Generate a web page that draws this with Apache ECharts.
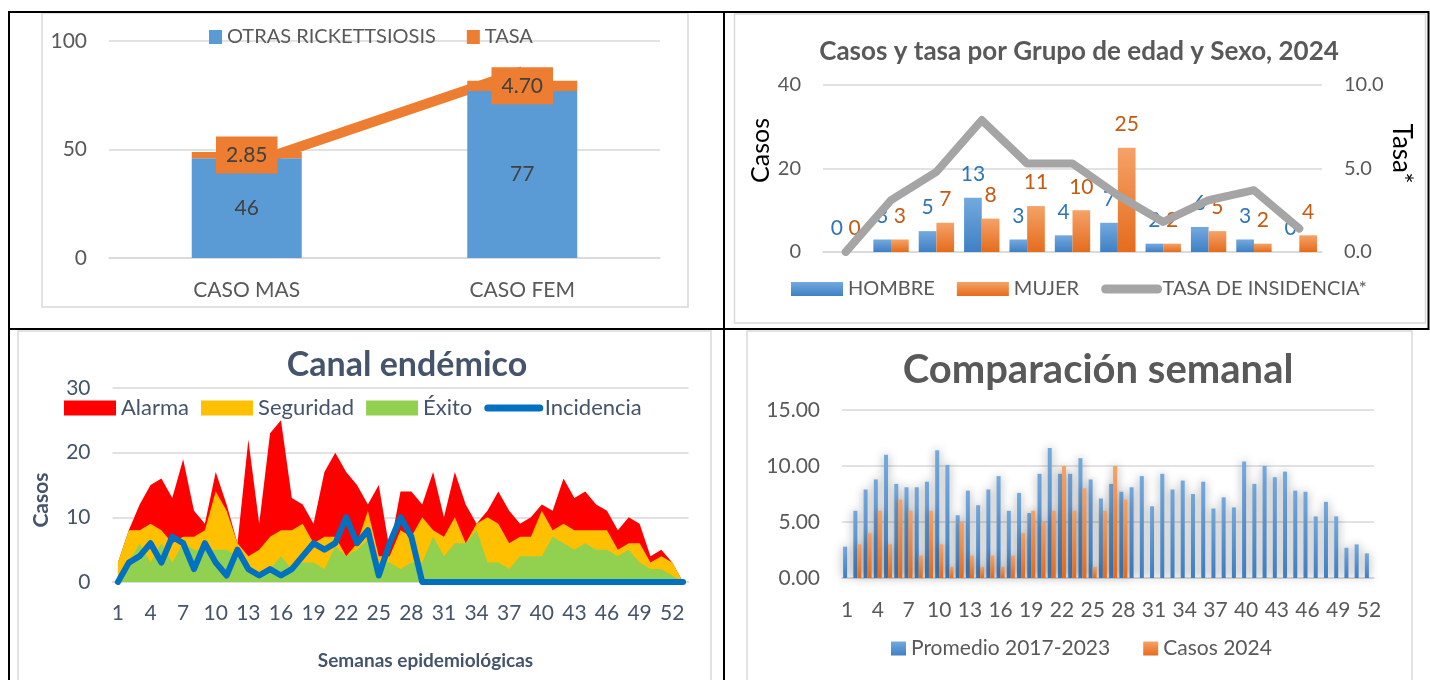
<!DOCTYPE html>
<html>
<head>
<meta charset="utf-8">
<title>Otras rickettsiosis</title>
<script src="https://cdn.jsdelivr.net/npm/echarts@6/dist/echarts.min.js"></script>
<style>
  html, body { margin: 0; padding: 0; background: #fff; }
  #main { width: 1430px; height: 680px; }
</style>
</head>
<body>
<div id="main"></div>
<script>
// --- casos por sexo ---
var sexCategories = ['CASO MAS', 'CASO FEM'];
var sexCases = [46, 77];
var sexRate = [2.85, 4.70];

// --- grupo de edad y sexo (etiquetas de grupo no visibles) ---
var ageGroups = ['1', '2', '3', '4', '5', '6', '7', '8', '9', '10', '11'];
var maleCases = [0, 3, 5, 13, 3, 4, 7, 2, 6, 3, 0];
var femaleCases = [0, 3, 7, 8, 11, 10, 25, 2, 5, 2, 4];
var incidenceRate = [0, 3.1, 4.8, 7.9, 5.3, 5.3, 3.4, 1.8, 3.1, 3.7, 1.4];

// --- canal endemico ---
var weeks53 = ['1','2','3','4','5','6','7','8','9','10','11','12','13','14','15','16','17','18','19','20',
  '21','22','23','24','25','26','27','28','29','30','31','32','33','34','35','36','37','38','39','40',
  '41','42','43','44','45','46','47','48','49','50','51','52','53'];
var alarma = [3, 8, 12, 15, 16, 13, 19, 11, 9, 17, 12, 6, 22, 9, 23, 25, 13, 12, 9, 17,
  20, 17, 15, 12, 15, 5, 14, 14, 12, 17, 10, 17, 12, 9, 11, 14, 11, 9, 10, 12,
  11, 16, 13, 14, 12, 11, 8, 10, 9, 4, 5, 3, 0];
var seguridad = [3, 8, 8, 9, 8, 6, 7, 7, 8, 14, 11, 6, 4, 5, 7, 8, 8, 9, 6, 7,
  7, 4, 6, 11, 4, 4, 8, 7, 10, 8, 7, 10, 6, 9, 10, 9, 6, 7, 7, 11,
  8, 9, 8, 8, 8, 8, 5, 6, 6, 3, 4, 3, 0];
var exito = [0, 3, 6, 3, 6, 3, 6, 5, 5, 5, 5, 4, 2, 1.5, 2, 4, 2, 3, 3, 2,
  5.5, 4, 5, 6.5, 3, 3, 2, 3, 3, 7, 4, 6, 6, 8, 3, 3, 2, 4, 4, 4,
  7, 6, 5, 6, 5, 5, 4, 5, 3, 2, 2, 1, 0];
var incidencia = [0, 3, 4, 6, 3, 7, 6, 2, 6, 3, 1, 5, 2, 1, 2, 1, 2, 4, 6, 5,
  6, 10, 6, 8, 1, 6, 10, 7, 0, 0, 0, 0, 0, 0, 0, 0, 0, 0, 0, 0,
  0, 0, 0, 0, 0, 0, 0, 0, 0, 0, 0, 0, 0];

// --- comparacion semanal ---
var weeks52 = weeks53.slice(0, 52);
var promedio = [2.8, 6.0, 7.9, 8.8, 11.0, 8.4, 8.1, 8.1, 8.6, 11.4,
  10.1, 5.6, 7.8, 6.5, 7.9, 9.1, 6.0, 7.6, 5.8, 9.3,
  11.6, 9.3, 9.3, 10.7, 8.8, 7.1, 8.4, 7.7, 8.1, 9.1,
  6.4, 9.3, 7.9, 8.7, 7.5, 8.6, 6.2, 7.2, 6.3, 10.4,
  8.4, 10.0, 9.0, 9.5, 7.8, 7.7, 5.5, 6.8, 5.5, 2.7, 3.0, 2.2];
var casos2024 = [0, 3, 4, 6, 3, 7, 6, 2, 6, 3, 1, 5, 2, 1, 2, 1, 2, 4, 6, 5,
  6, 10, 6, 8, 1, 6, 10, 7];

var FONT = 'Lato';
var GRAY = '#595959';
var SLATE = '#44546A';
var GRID_LINE = '#D9D9D9';

function blueGrad() {
    return new echarts.graphic.LinearGradient(0, 0, 0, 1, [
        { offset: 0, color: '#74A9DE' }, { offset: 1, color: '#3F80C4' }
    ]);
}
function orangeGrad() {
    return new echarts.graphic.LinearGradient(0, 0, 0, 1, [
        { offset: 0, color: '#F5A268' }, { offset: 1, color: '#E56C1C' }
    ]);
}

function valueAxis(gridIndex, min, max, interval, color, size, fmt) {
    return {
        type: 'value', gridIndex: gridIndex, min: min, max: max, interval: interval,
        axisLine: { show: false }, axisTick: { show: false },
        splitLine: { lineStyle: { color: GRID_LINE, width: 1.5 } },
        axisLabel: { color: color, fontSize: size, fontFamily: FONT, margin: 22, formatter: fmt }
    };
}

// solo la linea en la leyenda, sin simbolo
var noSymbol = { opacity: 0 };

var myChart = echarts.init(document.getElementById('main'));
var option = {
    animation: false,
    textStyle: { fontFamily: FONT },
    title: [
        {
            text: 'Casos y tasa por Grupo de edad y Sexo, 2024', left: 1079, top: 39, textAlign: 'center', padding: 0,
            textStyle: { fontSize: 26, fontWeight: 'bold', color: GRAY, fontFamily: FONT }
        },
        {
            text: 'Canal endémico', left: 407, top: 348, textAlign: 'center', padding: 0,
            textStyle: { fontSize: 34, fontWeight: 'bold', color: SLATE, fontFamily: FONT }
        },
        {
            text: 'Comparación semanal', left: 1098, top: 350, textAlign: 'center', padding: 0,
            textStyle: { fontSize: 40, fontWeight: 'bold', color: GRAY, fontFamily: FONT }
        }
    ],
    legend: [
        {
            data: ['OTRAS RICKETTSIOSIS', 'TASA'], left: 209, top: 27, padding: 0,
            icon: 'rect', itemWidth: 13, itemHeight: 14, itemGap: 31, selectedMode: false,
            textStyle: { fontSize: 20, color: GRAY, fontFamily: FONT }
        },
        {
            data: [
                { name: 'HOMBRE', icon: 'rect' },
                { name: 'MUJER', icon: 'rect' },
                { name: 'TASA DE INSIDENCIA*', itemStyle: noSymbol, lineStyle: { width: 9, cap: 'round' } }
            ],
            left: 791, top: 279, padding: 0, itemWidth: 52, itemHeight: 14, itemGap: 22, selectedMode: false,
            textStyle: { fontSize: 20, color: GRAY, fontFamily: FONT }
        },
        {
            data: [
                { name: 'Alarma', icon: 'rect' },
                { name: 'Seguridad', icon: 'rect' },
                { name: 'Éxito', icon: 'rect' },
                { name: 'Incidencia', itemStyle: noSymbol, lineStyle: { width: 7, cap: 'round' } }
            ],
            left: 64, top: 397, padding: 0, itemWidth: 52, itemHeight: 15, itemGap: 12, selectedMode: false,
            textStyle: { fontSize: 22, color: SLATE, fontFamily: FONT }
        },
        {
            data: ['Promedio 2017-2023', 'Casos 2024'], left: 891, top: 638, padding: 0,
            icon: 'rect', itemWidth: 15, itemHeight: 14, itemGap: 33, selectedMode: false,
            textStyle: { fontSize: 21, color: GRAY, fontFamily: FONT }
        }
    ],
    grid: [
        { left: 109, top: 41, width: 551, height: 217, outerBoundsMode: 'none' },
        { left: 823, top: 85, width: 499, height: 167, outerBoundsMode: 'none' },
        { left: 112.5, top: 388, width: 576, height: 194, outerBoundsMode: 'none' },
        { left: 842, top: 410, width: 532, height: 168, outerBoundsMode: 'none' }
    ],
    xAxis: [
        {
            type: 'category', gridIndex: 0, data: sexCategories,
            axisLine: { lineStyle: { color: GRID_LINE, width: 1.5 } }, axisTick: { show: false },
            axisLabel: { color: GRAY, fontSize: 21, fontFamily: FONT, margin: 22 }
        },
        {
            type: 'category', gridIndex: 1, data: ageGroups,
            axisLine: { lineStyle: { color: GRID_LINE, width: 1.5 } }, axisTick: { show: false },
            axisLabel: { show: false }
        },
        {
            type: 'category', gridIndex: 2, data: weeks53, boundaryGap: true,
            axisLine: { lineStyle: { color: GRID_LINE, width: 1.5 } }, axisTick: { show: false },
            axisLabel: { color: SLATE, fontSize: 21, fontFamily: FONT, margin: 21, interval: 2 },
            name: 'Semanas epidemiológicas', nameLocation: 'middle', nameGap: 69,
            nameTextStyle: { color: SLATE, fontSize: 19, fontWeight: 'bold', fontFamily: FONT, padding: [0, 0, 0, 50] }
        },
        {
            type: 'category', gridIndex: 3, data: weeks52,
            axisLine: { lineStyle: { color: GRID_LINE, width: 1.5 } }, axisTick: { show: false },
            axisLabel: { color: GRAY, fontSize: 21, fontFamily: FONT, margin: 22, interval: 2 }
        }
    ],
    yAxis: [
        valueAxis(0, 0, 100, 50, GRAY, 21),
        Object.assign(valueAxis(1, 0, 40, 20, GRAY, 20), {
            name: 'Casos', nameLocation: 'middle', nameGap: 48,
            nameTextStyle: { color: '#000', fontSize: 25, fontFamily: FONT, padding: [0, 0, 0, 36] }
        }),
        Object.assign(valueAxis(1, 0, 10, 5, GRAY, 20, function (v) { return v.toFixed(1); }), {
            position: 'right', splitLine: { show: false },
            name: 'Tasa*', nameLocation: 'middle', nameGap: 66, nameRotate: -90,
            nameTextStyle: { color: '#000', fontSize: 26, fontFamily: FONT, padding: [0, 30, 0, 0] }
        }),
        Object.assign(valueAxis(2, 0, 30, 10, SLATE, 21), {
            name: 'Casos', nameLocation: 'middle', nameGap: 61,
            nameTextStyle: { color: SLATE, fontSize: 21, fontWeight: 'bold', fontFamily: FONT, padding: [0, 30, 0, 0] }
        }),
        valueAxis(3, 0, 15, 5, GRAY, 21, function (v) { return v.toFixed(2); }),
        // eje secundario oculto de la linea TASA
        { type: 'value', gridIndex: 0, position: 'right', min: 1, max: 5.3, show: false, splitLine: { show: false } }
    ],
    series: [
        // casos por sexo
        {
            name: 'TASA', type: 'line', xAxisIndex: 0, yAxisIndex: 5, data: sexRate, z: 2,
            symbol: 'none', color: '#ED7D31', lineStyle: { width: 10, color: '#ED7D31' }
        },
        {
            name: 'OTRAS RICKETTSIOSIS', type: 'bar', xAxisIndex: 0, yAxisIndex: 0, stack: 'sexo', z: 3,
            data: sexCases, barWidth: 110, color: '#5B9BD5',
            label: { show: true, position: 'inside', color: '#404040', fontSize: 21, fontFamily: FONT }
        },
        {
            name: 'TASA', type: 'bar', xAxisIndex: 0, yAxisIndex: 0, stack: 'sexo', z: 3,
            data: sexRate, barWidth: 110, color: '#ED7D31',
            label: {
                show: true, position: 'inside', color: '#404040', fontSize: 21, fontFamily: FONT,
                backgroundColor: '#ED7D31', padding: [8, 10],
                formatter: function (p) { return p.value.toFixed(2); }
            }
        },
        // grupo de edad
        {
            name: 'HOMBRE', type: 'bar', xAxisIndex: 1, yAxisIndex: 1, data: maleCases,
            barGap: '0%', barCategoryGap: '22%', color: blueGrad(),
            label: { show: true, position: 'top', distance: 13, color: '#2E75B6', fontSize: 21, fontFamily: FONT }
        },
        {
            name: 'MUJER', type: 'bar', xAxisIndex: 1, yAxisIndex: 1, data: femaleCases,
            barGap: '0%', barCategoryGap: '22%', color: orangeGrad(),
            label: { show: true, position: 'top', distance: 13, color: '#C55A11', fontSize: 21, fontFamily: FONT }
        },
        {
            name: 'TASA DE INSIDENCIA*', type: 'line', xAxisIndex: 1, yAxisIndex: 2, data: incidenceRate,
            symbol: 'none', color: '#A5A5A5', z: 3,
            lineStyle: { width: 8, color: '#A5A5A5', cap: 'round', join: 'round' }
        },
        // canal endemico
        {
            name: 'Alarma', type: 'line', xAxisIndex: 2, yAxisIndex: 3, data: alarma, symbol: 'none',
            color: '#FF0000', lineStyle: { width: 0 }, areaStyle: { color: '#FF0000', opacity: 1 }
        },
        {
            name: 'Seguridad', type: 'line', xAxisIndex: 2, yAxisIndex: 3, data: seguridad, symbol: 'none',
            color: '#FFC000', lineStyle: { width: 0 }, areaStyle: { color: '#FFC000', opacity: 1 }
        },
        {
            name: 'Éxito', type: 'line', xAxisIndex: 2, yAxisIndex: 3, data: exito, symbol: 'none',
            color: '#92D050', lineStyle: { width: 0 }, areaStyle: { color: '#92D050', opacity: 1 }
        },
        {
            name: 'Incidencia', type: 'line', xAxisIndex: 2, yAxisIndex: 3, data: incidencia, symbol: 'none',
            color: '#0070C0', lineStyle: { width: 6, color: '#0070C0', cap: 'round', join: 'round' }
        },
        // comparacion semanal
        {
            name: 'Promedio 2017-2023', type: 'bar', xAxisIndex: 3, yAxisIndex: 4, data: promedio,
            barWidth: 4, barGap: '0%', color: blueGrad(),
            itemStyle: { shadowBlur: 10, shadowColor: 'rgba(0,0,0,0.38)' }
        },
        {
            name: 'Casos 2024', type: 'bar', xAxisIndex: 3, yAxisIndex: 4, data: casos2024,
            barWidth: 4, barGap: '0%', color: orangeGrad(),
            itemStyle: { shadowBlur: 10, shadowColor: 'rgba(0,0,0,0.38)' }
        }
    ],
    graphic: [
        // marcos de cada grafico
        { type: 'rect', z: -10, shape: { x: 42, y: 13, width: 646, height: 294 }, style: { fill: 'none', stroke: GRID_LINE, lineWidth: 1.5 } },
        { type: 'rect', z: -10, shape: { x: 734.5, y: 14, width: 691, height: 309 }, style: { fill: 'none', stroke: GRID_LINE, lineWidth: 1.5 } },
        { type: 'rect', z: -10, shape: { x: 18, y: 331, width: 693, height: 360 }, style: { fill: 'none', stroke: GRID_LINE, lineWidth: 1.5 } },
        { type: 'rect', z: -10, shape: { x: 747, y: 331, width: 665, height: 360 }, style: { fill: 'none', stroke: GRID_LINE, lineWidth: 1.5 } },
        // bordes de la tabla
        { type: 'line', z: 10, shape: { x1: 8, y1: 12, x2: 1429, y2: 12 }, style: { stroke: '#000', lineWidth: 2 } },
        { type: 'line', z: 10, shape: { x1: 8, y1: 329, x2: 1429, y2: 329 }, style: { stroke: '#000', lineWidth: 2 } },
        { type: 'line', z: 10, shape: { x1: 9, y1: 11, x2: 9, y2: 680 }, style: { stroke: '#000', lineWidth: 2 } },
        { type: 'line', z: 10, shape: { x1: 724, y1: 11, x2: 724, y2: 680 }, style: { stroke: '#000', lineWidth: 2 } },
        { type: 'line', z: 10, shape: { x1: 1428.5, y1: 11, x2: 1428.5, y2: 330 }, style: { stroke: '#000', lineWidth: 2 } }
    ]
};
myChart.setOption(option);
</script>
</body>
</html>
